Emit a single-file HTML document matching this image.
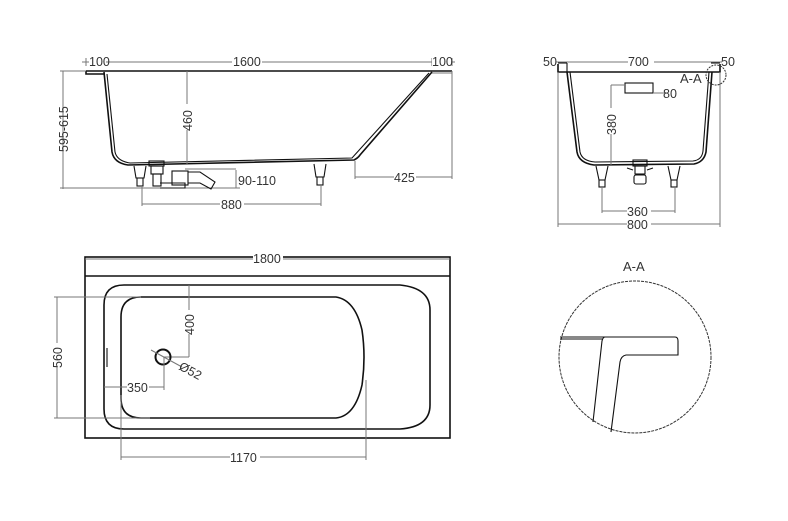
<!DOCTYPE html>
<html><head><meta charset="utf-8"><style>
html,body{margin:0;padding:0;background:#fff;}
svg{display:block;}
text{font-family:"Liberation Sans",sans-serif;font-size:12.5px;fill:#333;}
.d{stroke:#777;stroke-width:1;fill:none;}
.o{stroke:#111;stroke-width:1.6;fill:none;}
.t{stroke:#111;stroke-width:1.1;fill:none;}
</style></head><body>
<svg width="788" height="521" viewBox="0 0 788 521" xmlns="http://www.w3.org/2000/svg">
<!-- ========== SIDE VIEW ========== -->
<g>
<line class="d" x1="82" y1="62" x2="455" y2="62"/>
<line class="d" x1="86" y1="58" x2="86" y2="66"/>
<line class="d" x1="105" y1="58" x2="105" y2="66"/>
<line class="d" x1="432" y1="58" x2="432" y2="66"/>
<line class="d" x1="452" y1="58" x2="452" y2="66"/>
<rect x="89" y="55" width="17" height="12" fill="#fff"/><text x="89" y="66">100</text>
<rect x="232" y="55" width="30" height="12" fill="#fff"/><text x="233" y="66">1600</text>
<rect x="432" y="55" width="19" height="12" fill="#fff"/><text x="432" y="66">100</text>
<path class="o" d="M86 71 L452 71 M86 71 L86 74 L104 74"/>
<line class="d" x1="432" y1="73" x2="452" y2="73"/>
<path class="o" d="M104 72 L112 152 Q114 163 128 165 L354 160 Q358 158 360 155 L432 72"/>
<path class="t" d="M107 74 L115 152 Q117 161 130 163 L352 158 L429 73"/>
<line class="d" x1="63" y1="71" x2="63" y2="189"/>
<line class="d" x1="60" y1="71" x2="86" y2="71"/>
<line class="d" x1="60" y1="188" x2="240" y2="188"/>
<text transform="translate(68,152) rotate(-90)">595-615</text>
<line class="d" x1="187" y1="71" x2="187" y2="164"/>
<rect x="180" y="104" width="14" height="26" fill="#fff"/>
<text transform="translate(192,131) rotate(-90)">460</text>
<path class="t" d="M134 166 L136 178 L144 178 L146 166"/>
<rect class="t" x="137" y="178" width="6" height="8"/>
<path class="t" d="M314 164 L316 177 L324 177 L326 164"/>
<rect class="t" x="317" y="177" width="6" height="8"/>
<rect class="t" x="149" y="161" width="15" height="5"/>
<rect class="t" x="151" y="166" width="12" height="8"/>
<rect class="t" x="153" y="174" width="8" height="12"/>
<path class="t" d="M160 183 L185 183 L185 188 L160 188"/>
<rect class="t" x="172" y="171" width="16" height="14"/>
<path class="t" d="M188 172 L200 172 L215 182 L211 189 L200 183 L188 183"/>
<line class="d" x1="236" y1="170" x2="236" y2="188"/>
<line class="d" x1="185" y1="169" x2="236" y2="169"/>
<text x="238" y="185">90-110</text>
<line class="d" x1="142" y1="186" x2="142" y2="206"/>
<line class="d" x1="321" y1="185" x2="321" y2="206"/>
<line class="d" x1="142" y1="204" x2="321" y2="204"/>
<rect x="220" y="198" width="24" height="12" fill="#fff"/><text x="221" y="209">880</text>
<line class="d" x1="355" y1="161" x2="355" y2="179"/>
<line class="d" x1="452" y1="71" x2="452" y2="179"/>
<line class="d" x1="355" y1="177" x2="452" y2="177"/>
<rect x="394" y="171" width="22" height="12" fill="#fff"/><text x="394" y="182">425</text>
</g>

<!-- ========== END VIEW ========== -->
<g>
<line class="d" x1="556" y1="62" x2="722" y2="62"/>
<text x="543" y="66">50</text>
<rect x="628" y="55" width="26" height="12" fill="#fff"/><text x="628" y="66">700</text>
<text x="721" y="66">50</text>
<path class="o" d="M558 64 L558 72 L720 72 L720 64"/>
<line class="t" x1="558" y1="63" x2="567" y2="63"/>
<line class="t" x1="567" y1="63" x2="567" y2="72"/>
<line class="t" x1="711" y1="63" x2="720" y2="63"/>
<path class="o" d="M567 72 L577 152 Q579 163 594 165 L694 164 Q704 162 706 152 L712 72"/>
<path class="t" d="M570 72 L580 152 Q582 161 595 162 L693 161 Q702 160 703 151 L709 72"/>
<circle cx="716" cy="75" r="10" fill="none" stroke="#333" stroke-dasharray="2,1"/>
<text x="680" y="83" style="font-size:13px;fill:#333">A-A</text>
<rect class="t" x="625" y="83" width="28" height="10"/>
<line class="d" x1="653" y1="93" x2="665" y2="93"/>
<line class="d" x1="611" y1="85" x2="625" y2="85"/>
<text x="663" y="98">80</text>
<line class="d" x1="611" y1="85" x2="611" y2="165"/>
<rect x="604" y="108" width="14" height="26" fill="#fff"/>
<text transform="translate(616,135) rotate(-90)">380</text>
<path class="t" d="M596 166 L599 180 L605 180 L608 166"/>
<rect class="t" x="599" y="180" width="6" height="7"/>
<path class="t" d="M668 166 L671 180 L677 180 L680 166"/>
<rect class="t" x="671" y="180" width="6" height="7"/>
<rect class="t" x="633" y="160" width="14" height="6"/>
<rect class="t" x="635" y="166" width="10" height="8"/>
<rect class="t" x="634" y="175" width="12" height="9" rx="2"/>
<path class="t" d="M627 168 L633 170 M653 168 L647 170"/>
<line class="d" x1="602" y1="187" x2="602" y2="213"/>
<line class="d" x1="675" y1="187" x2="675" y2="213"/>
<line class="d" x1="602" y1="211" x2="675" y2="211"/>
<rect x="627" y="205" width="24" height="12" fill="#fff"/><text x="627" y="216">360</text>
<line class="d" x1="558" y1="72" x2="558" y2="227"/>
<line class="d" x1="720" y1="72" x2="720" y2="227"/>
<line class="d" x1="558" y1="224" x2="720" y2="224"/>
<rect x="627" y="218" width="24" height="12" fill="#fff"/><text x="627" y="229">800</text>
</g>

<!-- ========== PLAN VIEW ========== -->
<g>
<rect class="o" x="85" y="257" width="365" height="181"/>
<line class="o" x1="85" y1="276" x2="450" y2="276"/>
<line class="d" x1="85" y1="259" x2="450" y2="259"/>
<rect x="253" y="252" width="30" height="12" fill="#fff"/><text x="253" y="263">1800</text>
<path class="o" d="M124 285 L400 285 Q430 288 430 310 L430 405 Q430 427 400 429 L124 429 Q104 429 104 409 L104 305 Q104 285 124 285 Z"/>
<path class="o" d="M141 297 L336 297 Q355 300 362 330 Q366 357 362 385 Q355 416 336 418 L141 418 Q121 418 121 398 L121 317 Q121 297 141 297 Z"/>
<line class="t" x1="107" y1="348" x2="107" y2="367"/>
<line class="d" x1="57" y1="297" x2="57" y2="418"/>
<line class="d" x1="54" y1="297" x2="141" y2="297"/>
<line class="d" x1="54" y1="418" x2="150" y2="418"/>
<rect x="50" y="343" width="14" height="24" fill="#fff"/>
<text transform="translate(62,368) rotate(-90)">560</text>
<line class="d" x1="189" y1="285" x2="189" y2="357"/>
<line class="d" x1="163" y1="357" x2="189" y2="357"/>
<rect x="182" y="310" width="14" height="24" fill="#fff"/>
<text transform="translate(194,335) rotate(-90)">400</text>
<circle cx="163" cy="357" r="7.5" fill="none" stroke="#111" stroke-width="2"/>
<line class="d" x1="151" y1="350" x2="182" y2="367"/>
<text transform="translate(178,369) rotate(28)">Ø52</text>
<line class="d" x1="164" y1="357" x2="164" y2="390"/>
<line class="d" x1="104" y1="387" x2="164" y2="387"/>
<rect x="127" y="381" width="22" height="12" fill="#fff"/><text x="127" y="392">350</text>
<line class="d" x1="121" y1="395" x2="121" y2="460"/>
<line class="d" x1="366" y1="380" x2="366" y2="460"/>
<line class="d" x1="121" y1="457" x2="366" y2="457"/>
<rect x="230" y="451" width="30" height="12" fill="#fff"/><text x="230" y="462">1170</text>
</g>

<!-- ========== DETAIL A-A ========== -->
<g>
<text x="623" y="271" style="font-size:13px;fill:#333">A-A</text>
<circle cx="635" cy="357" r="76" fill="none" stroke="#333" stroke-dasharray="3,1"/>
<line class="t" x1="560" y1="339" x2="603" y2="339"/>
<path class="t" d="M560 337 L675 337 Q678 337 678 341 L678 355 L626 355 Q621 356 620 362 L611 432"/>
<path class="t" d="M605 337 Q603 337 602 341 L593 422"/>
</g>
</svg>
</body></html>
